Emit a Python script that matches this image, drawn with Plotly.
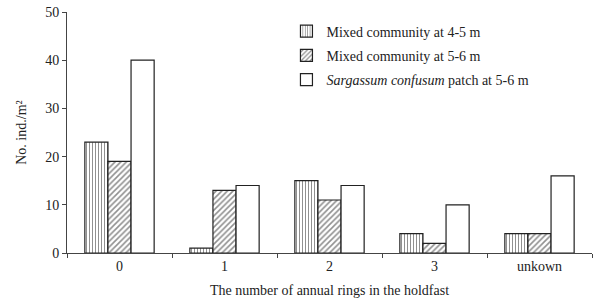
import plotly.graph_objects as go

categories = ["0", "1", "2", "3", "unkown"]
mixed_4_5 = [23, 1, 15, 4, 4]
mixed_5_6 = [19, 13, 11, 2, 4]
sargassum = [40, 14, 14, 10, 16]
series_names = ["Mixed community at 4-5 m", "Mixed community at 5-6 m",
                "<i>Sargassum confusum</i> patch at 5-6 m"]
y_ticks = [0, 10, 20, 30, 40, 50]

FONT = "Liberation Serif, Times New Roman, serif"
INK = "#222"

fig = go.Figure()
patterns = [dict(shape="|", size=3, solidity=0.35),
            dict(shape="/", size=4, solidity=0.4),
            dict(shape="")]
for i, (name, vals, pat) in enumerate(zip(series_names, [mixed_4_5, mixed_5_6, sargassum], patterns)):
    fig.add_trace(go.Bar(
        x=categories, y=vals, name=name, legendgroup=f"g{i}",
        marker=dict(color="white", line=dict(color=INK, width=1.2),
                    pattern=dict(fgcolor=INK, bgcolor="white", **pat)),
    ))

fig.update_layout(
    width=596, height=304,
    margin=dict(l=67, r=4, t=12, b=51),
    paper_bgcolor="white", plot_bgcolor="white",
    barmode="group", bargap=0.34, bargroupgap=0,
    font=dict(family=FONT, color=INK, size=14),
    showlegend=True,
    legend=dict(x=0.418, y=0.985, xanchor="left", yanchor="top",
                font=dict(family=FONT, size=14, color=INK),
                bgcolor="rgba(0,0,0,0)", tracegroupgap=3, itemwidth=30),
    xaxis=dict(type="category", showline=True, linecolor="#444", linewidth=1,
               ticks="outside", tickson="boundaries", ticklen=4, tickcolor="#444",
               showgrid=False, tickfont=dict(size=14), automargin=False,
               title=dict(text="The number of annual rings in the holdfast",
                          font=dict(size=14), standoff=12)),
    yaxis=dict(range=[0, 50], tickvals=y_ticks, showline=True, linecolor="#444", linewidth=1,
               ticks="outside", ticklen=4, tickcolor="#444", showgrid=False, zeroline=False,
               tickfont=dict(size=14), automargin=False,
               title=dict(text="No. ind./m²", font=dict(size=14), standoff=15)),
)

# remove the default 8px page margin so the figure fills the window exactly
fig.write_html("out.html", config={"displayModeBar": False},
               post_script="document.body.style.margin='0';")
